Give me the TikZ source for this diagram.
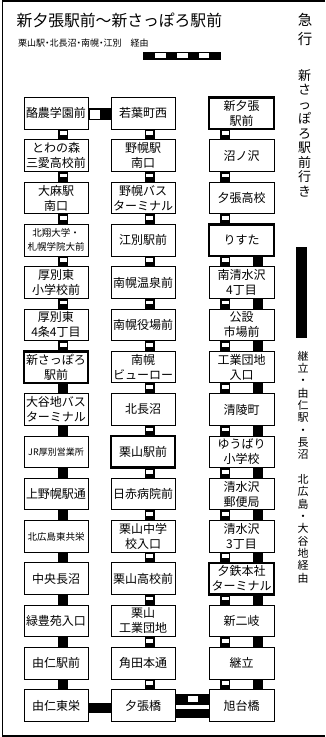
\documentclass[tikz,border=0pt]{standalone}
\usepackage{fontspec}
\setmainfont{Noto Sans CJK JP}
\newfontfamily\jpprop[RawFeature=+palt]{Noto Sans CJK JP}
\newcommand\vconw[3]{%
  \fill ([xshift=#3pt-5pt]#1.south) rectangle ([xshift=#3pt+5pt]#2.north);
  \fill[white] ([xshift=#3pt-3.5pt,yshift=-2.3pt]#1.south) rectangle ([xshift=#3pt+3.5pt,yshift=-6pt]#1.south);}
\newcommand\vconb[3]{%
  \fill ([xshift=#3pt-5pt]#1.south) rectangle ([xshift=#3pt+5pt]#2.north);}
\begin{document}
\begin{tikzpicture}[x=1pt,y=-1pt,
  stn/.style={draw, line width=1pt, minimum width=64pt, minimum height=31.5pt,
    inner sep=0pt, outer sep=0pt, align=center, fill=white,
    font=\fontsize{12}{15}\selectfont},
  stnw/.style={stn, minimum width=65pt},
  thk/.style={line width=2.4pt},
  smalltxt/.style={font=\fontsize{9.5}{14}\selectfont},
  vtext/.style={align=center, inner sep=0pt}]
\useasboundingbox (0,0) rectangle (325,737);
% frame
\draw[line width=1.6pt] (325,1) -- (2.5,1) -- (2.5,735.7) -- (325,735.7);
% title
\node[anchor=west, inner sep=0pt, font=\fontsize{15.8}{16}\selectfont] (title) at (16.5,20.5) {新夕張駅前～新さっぽろ駅前};
\node[anchor=west, inner sep=0pt, font=\fontsize{9}{10}\selectfont\jpprop] (via1) at (18,43.5) {栗山駅・北長沼・南幌・江別　経由};
% legend bar (top)
\fill (143,51.5) rectangle (220.5,60);
\fill[white] (155,53) rectangle (165.5,57.5);
\fill[white] (176.5,53) rectangle (187.5,57.5);
\fill[white] (198.5,53) rectangle (209,57.5);
% right side texts
\node[vtext, font=\fontsize{14.5}{18.5}\selectfont] (kyuko) at (305,29.3) {急\\行};
\node[vtext, font=\fontsize{13}{14.5}\selectfont] (dest) at (304.5,133) {新\\さ\\っ\\ぽ\\ろ\\駅\\前\\行\\き};
\fill (296,247) rectangle (307,338);
\node[vtext, font=\fontsize{11}{12.35}\selectfont] (via2) at (303,467) {継\\立\\・\\由\\仁\\駅\\・\\長\\沼\\　\\北\\広\\島\\・\\大\\谷\\地\\経\\由};
% column 1
\node[stn] (a1) at (56,113.4) {酪農学園前};
\node[stn] (a2) at (56,155.7) {とわの森\\三愛高校前};
\node[stn] (a3) at (56,198.0) {大麻駅\\南口};
\node[stn,smalltxt] (a4) at (56,240.3) {北翔大学・\\札幌学院大前};
\node[stn] (a5) at (56,282.6) {厚別東\\小学校前};
\node[stn] (a6) at (56,324.9) {厚別東\\4条4丁目};
\node[stn,thk] (a7) at (56,367.2) {新さっぽろ\\駅前};
\node[stn] (a8) at (56,409.5) {大谷地バス\\ターミナル};
\node[stn,font=\fontsize{9}{11}\selectfont] (a9) at (56,451.8) {JR厚別営業所};
\node[stn] (a10) at (56,494.1) {上野幌駅通};
\node[stn,font=\fontsize{9.5}{11}\selectfont] (a11) at (56,536.4) {北広島東共栄};
\node[stn] (a12) at (56,578.7) {中央長沼};
\node[stn] (a13) at (56,621.0) {緑豊苑入口};
\node[stn] (a14) at (56,663.3) {由仁駅前};
\node[stn] (a15) at (56,705.6) {由仁東栄};
% column 2
\node[stn] (b1) at (143,113.4) {若葉町西};
\node[stn] (b2) at (143,155.7) {野幌駅\\南口};
\node[stn] (b3) at (143,198.0) {野幌バス\\ターミナル};
\node[stn] (b4) at (143,240.3) {江別駅前};
\node[stn] (b5) at (143,282.6) {南幌温泉前};
\node[stn] (b6) at (143,324.9) {南幌役場前};
\node[stn] (b7) at (143,367.2) {南幌\\ビューロー};
\node[stn] (b8) at (143,409.5) {北長沼};
\node[stn,thk] (b9) at (143,451.8) {栗山駅前};
\node[stn] (b10) at (143,494.1) {日赤病院前};
\node[stn] (b11) at (143,536.4) {栗山中学\\校入口};
\node[stn] (b12) at (143,578.7) {栗山高校前};
\node[stn] (b13) at (143,621.0) {栗山\\工業団地};
\node[stn] (b14) at (143,663.3) {角田本通};
\node[stn] (b15) at (143,705.6) {夕張橋};
% column 3
\node[stnw,thk] (c1) at (241.5,113.4) {新夕張\\駅前};
\node[stnw] (c2) at (241.5,155.7) {沼ノ沢};
\node[stnw] (c3) at (241.5,198.0) {夕張高校};
\node[stnw,thk] (c4) at (241.5,240.3) {りすた};
\node[stnw] (c5) at (241.5,282.6) {南清水沢\\4丁目};
\node[stnw] (c6) at (241.5,324.9) {公設\\市場前};
\node[stnw] (c7) at (241.5,367.2) {工業団地\\入口};
\node[stnw] (c8) at (241.5,409.5) {清陵町};
\node[stnw] (c9) at (241.5,451.8) {ゆうばり\\小学校};
\node[stnw] (c10) at (241.5,494.1) {清水沢\\郵便局};
\node[stnw] (c11) at (241.5,536.4) {清水沢\\3丁目};
\node[stnw,thk] (c12) at (241.5,578.7) {夕鉄本社\\ターミナル};
\node[stnw] (c13) at (241.5,621.0) {新二岐};
\node[stnw] (c14) at (241.5,663.3) {継立};
\node[stnw] (c15) at (241.5,705.6) {旭台橋};
% vertical connectors
\foreach \i in {1,...,6}{\pgfmathtruncatemacro\j{\i+1}\vconw{a\i}{a\j}{7}}
\foreach \i in {7,...,14}{\pgfmathtruncatemacro\j{\i+1}\vconb{a\i}{a\j}{7}}
\foreach \i in {1,...,14}{\pgfmathtruncatemacro\j{\i+1}\vconw{b\i}{b\j}{6.5}}
\foreach \i in {1,...,14}{\pgfmathtruncatemacro\j{\i+1}\vconw{c\i}{c\j}{-16.3}}
\foreach \i in {4,...,14}{\pgfmathtruncatemacro\j{\i+1}\vconb{c\i}{c\j}{16.5}}
% horizontal connectors
\fill ([yshift=5pt]a1.east) rectangle ([yshift=-7pt]b1.west);
\fill[white] ([xshift=1.5pt,yshift=3.5pt]a1.east) rectangle ([xshift=12pt,yshift=-5.5pt]a1.east);
\fill ([yshift=3pt]a15.east) rectangle ([yshift=-7.5pt]b15.west);
\fill ([yshift=11.6pt]b15.east) rectangle ([yshift=1.1pt]c15.west);
\fill[white] ([xshift=13pt,yshift=9.6pt]b15.east) rectangle ([xshift=23pt,yshift=4.1pt]b15.east);
\fill ([yshift=-3.7pt]b15.east) rectangle ([yshift=-12.4pt]c15.west);
\end{tikzpicture}
\end{document}
